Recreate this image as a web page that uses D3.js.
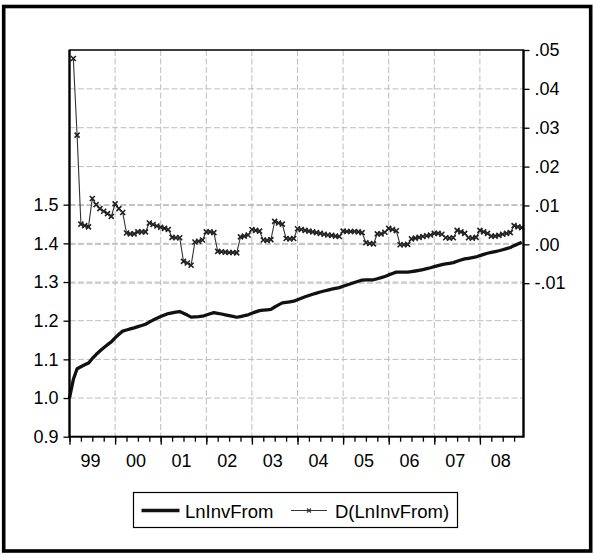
<!DOCTYPE html>
<html>
<head>
<meta charset="utf-8">
<script src="https://cdn.jsdelivr.net/npm/d3@7"></script>
<style>
  html, body { margin: 0; padding: 0; background: #fff; }
  svg text { font-family: "Liberation Sans", Arial, sans-serif; fill: #000; }
</style>
</head>
<body>
<svg id="chart" width="595" height="555"></svg>
<script>
// monthly data, 1999M1 .. 2008M12
var years = ["99", "00", "01", "02", "03", "04", "05", "06", "07", "08"];

var lnInvFrom = [
  1.0000, 1.0478, 1.0759, 1.0811, 1.0859, 1.0904, 1.1022, 1.1124, 1.1216, 1.1301, 1.1380, 1.1452,
  1.1556, 1.1648, 1.1730, 1.1759, 1.1786, 1.1813, 1.1845, 1.1877, 1.1909, 1.1964, 1.2015, 1.2062,
  1.2106, 1.2147, 1.2185, 1.2203, 1.2220, 1.2237, 1.2193, 1.2145, 1.2091, 1.2097, 1.2105, 1.2116,
  1.2148, 1.2180, 1.2210, 1.2192, 1.2173, 1.2153, 1.2132, 1.2111, 1.2089, 1.2108, 1.2129, 1.2153,
  1.2191, 1.2227, 1.2261, 1.2272, 1.2282, 1.2294, 1.2353, 1.2408, 1.2460, 1.2475, 1.2489, 1.2504,
  1.2544, 1.2582, 1.2618, 1.2652, 1.2684, 1.2714, 1.2742, 1.2768, 1.2792, 1.2815, 1.2836, 1.2856,
  1.2890, 1.2923, 1.2956, 1.2989, 1.3021, 1.3051, 1.3055, 1.3057, 1.3058, 1.3085, 1.3112, 1.3143,
  1.3184, 1.3222, 1.3257, 1.3256, 1.3255, 1.3255, 1.3269, 1.3285, 1.3303, 1.3323, 1.3345, 1.3369,
  1.3397, 1.3425, 1.3451, 1.3468, 1.3484, 1.3501, 1.3537, 1.3569, 1.3597, 1.3614, 1.3630, 1.3648,
  1.3684, 1.3716, 1.3744, 1.3765, 1.3786, 1.3809, 1.3835, 1.3863, 1.3893, 1.3941, 1.3986, 1.4029
];

var dLnInvFrom = [
  null,  .0478, .0281, .0052, .0048, .0045, .0118, .0102, .0092, .0085, .0079, .0072,
  .0104, .0092, .0082, .0029, .0027, .0027, .0032, .0032, .0032, .0055, .0051, .0047,
  .0044, .0041, .0038, .0018, .0017, .0017, -.0044, -.0048, -.0054, .0006, .0008, .0011,
  .0032, .0032, .0030, -.0018, -.0019, -.0020, -.0021, -.0021, -.0022, .0019, .0021, .0024,
  .0038, .0036, .0034, .0011, .0010, .0012, .0059, .0055, .0052, .0015, .0014, .0015,
  .0040, .0038, .0036, .0034, .0032, .0030, .0028, .0026, .0024, .0023, .0021, .0020,
  .0034, .0033, .0033, .0033, .0032, .0030, .0004, .0002, .0001, .0027, .0027, .0031,
  .0041, .0038, .0035, -.0001, -.0001, .0000, .0014, .0016, .0018, .0020, .0022, .0024,
  .0028, .0028, .0026, .0017, .0016, .0017, .0036, .0032, .0028, .0017, .0016, .0018,
  .0036, .0032, .0028, .0021, .0021, .0023, .0026, .0028, .0030, .0048, .0045, .0043
];

var leftTicks = [0.9, 1.0, 1.1, 1.2, 1.3, 1.4, 1.5];
var rightTicks = [-0.01, 0.00, 0.01, 0.02, 0.03, 0.04, 0.05];
var legendLabels = ["LnInvFrom", "D(LnInvFrom)"];

var svg = d3.select("#chart");
var plot = { left: 69.5, right: 523.5, top: 50, bottom: 436.7 };

var x = d3.scaleLinear().domain([0, 119]).range([69.5, 521.7]);
var yL = d3.scaleLinear().domain([0.9, 1.9]).range([plot.bottom, plot.top]);
var yR = d3.scaleLinear().domain([-0.0495, 0.05]).range([plot.bottom, plot.top]);

// outer frame
svg.append("rect")
  .attr("x", 3.7).attr("y", 6.5)
  .attr("width", 587).attr("height", 544.5)
  .attr("fill", "none").attr("stroke", "#000").attr("stroke-width", 3.6);

// grid
var grid = svg.append("g")
  .attr("stroke", "#bdbdbd").attr("stroke-width", 1)
  .attr("stroke-dasharray", "6,2.5").attr("fill", "none");

d3.range(12, 120, 12).forEach(function (m) {
  grid.append("line").attr("x1", x(m)).attr("x2", x(m))
    .attr("y1", plot.top).attr("y2", plot.bottom);
});
leftTicks.slice(1).forEach(function (v) {
  grid.append("line").attr("x1", plot.left).attr("x2", plot.right)
    .attr("y1", yL(v)).attr("y2", yL(v));
});
rightTicks.slice(0, -1).forEach(function (v) {
  grid.append("line").attr("x1", plot.left).attr("x2", plot.right)
    .attr("y1", yR(v)).attr("y2", yR(v));
});

// series
var levelLine = d3.line()
  .x(function (d, i) { return x(i); })
  .y(function (d) { return yL(d); });

var diffLine = d3.line()
  .defined(function (d) { return d !== null; })
  .x(function (d, i) { return x(i); })
  .y(function (d) { return yR(d); });

svg.append("path")
  .datum(dLnInvFrom)
  .attr("d", diffLine)
  .attr("fill", "none").attr("stroke", "#333").attr("stroke-width", 1.1);

var cross = "M-2.5,-2.5L2.5,2.5M-2.5,2.5L2.5,-2.5";
svg.append("g").selectAll("path")
  .data(dLnInvFrom.map(function (d, i) { return { i: i, v: d }; })
    .filter(function (d) { return d.v !== null; }))
  .enter().append("path")
  .attr("d", cross)
  .attr("transform", function (d) { return "translate(" + x(d.i) + "," + yR(d.v) + ")"; })
  .attr("stroke", "#222").attr("stroke-width", 1.6).attr("fill", "none");

svg.append("path")
  .datum(lnInvFrom)
  .attr("d", levelLine)
  .attr("fill", "none").attr("stroke", "#111").attr("stroke-width", 3.3)
  .attr("stroke-linejoin", "round");

// plot frame
svg.append("rect")
  .attr("x", plot.left).attr("y", plot.top)
  .attr("width", plot.right - plot.left).attr("height", plot.bottom - plot.top)
  .attr("fill", "none").attr("stroke", "#000").attr("stroke-width", 1.5);

// axes
var leftAxis = svg.append("g")
  .attr("transform", "translate(" + plot.left + ",0)")
  .call(d3.axisLeft(yL).tickValues(leftTicks).tickFormat(d3.format(".1f"))
    .tickSize(6).tickSizeOuter(0).tickPadding(5));

var rightAxis = svg.append("g")
  .attr("transform", "translate(" + plot.right + ",0)")
  .call(d3.axisRight(yR).tickValues(rightTicks)
    .tickFormat(function (d) { return d.toFixed(2).replace("0.", "."); })
    .tickSize(6).tickSizeOuter(0).tickPadding(5));

var minorAxis = svg.append("g")
  .attr("transform", "translate(0," + plot.bottom + ")")
  .call(d3.axisBottom(x).tickValues(d3.range(0, 120, 3))
    .tickSize(5).tickSizeOuter(0).tickFormat(""));

var majorAxis = svg.append("g")
  .attr("transform", "translate(0," + plot.bottom + ")")
  .call(d3.axisBottom(x).tickValues(d3.range(0, 120, 12))
    .tickSize(8).tickSizeOuter(0).tickFormat(""));

[leftAxis, rightAxis, minorAxis, majorAxis].forEach(function (g) {
  g.select(".domain").remove();
  g.selectAll("line").attr("stroke", "#000").attr("stroke-width", 1.3);
  g.selectAll("text")
    .attr("font-family", "Liberation Sans, Arial, sans-serif")
    .attr("font-size", 18).attr("fill", "#000");
});

// thicker axis lines like the original
svg.append("line").attr("x1", plot.left).attr("x2", plot.left)
  .attr("y1", plot.top).attr("y2", plot.bottom + 0.8)
  .attr("stroke", "#000").attr("stroke-width", 2.2);
svg.append("line").attr("x1", plot.right).attr("x2", plot.right)
  .attr("y1", plot.top).attr("y2", plot.bottom + 0.8)
  .attr("stroke", "#000").attr("stroke-width", 2.2);
svg.append("line").attr("x1", plot.left).attr("x2", plot.right)
  .attr("y1", plot.bottom).attr("y2", plot.bottom)
  .attr("stroke", "#000").attr("stroke-width", 1.8);

// year labels
svg.append("g").selectAll("text")
  .data(years)
  .enter().append("text")
  .attr("x", function (d, i) { return x(i * 12 + 5.5); })
  .attr("y", 466.5)
  .attr("text-anchor", "middle")
  .attr("font-size", 18)
  .text(function (d) { return d; });

// legend
var legend = svg.append("g");
legend.append("rect")
  .attr("x", 133.5).attr("y", 492.5).attr("width", 324).attr("height", 35)
  .attr("fill", "#fff").attr("stroke", "#000").attr("stroke-width", 1.2);
legend.append("line")
  .attr("x1", 141.5).attr("x2", 179.5).attr("y1", 510.5).attr("y2", 510.5)
  .attr("stroke", "#111").attr("stroke-width", 3.3);
legend.append("text").attr("x", 185).attr("y", 517.5)
  .attr("font-size", 18.5).text(legendLabels[0]);
legend.append("line")
  .attr("x1", 291).attr("x2", 327).attr("y1", 510.5).attr("y2", 510.5)
  .attr("stroke", "#333").attr("stroke-width", 1);
legend.append("path").attr("d", "M-2,-2L2,2M-2,2L2,-2")
  .attr("transform", "translate(309,510.5)")
  .attr("stroke", "#333").attr("stroke-width", 1.1).attr("fill", "none");
legend.append("text").attr("x", 335).attr("y", 517.5)
  .attr("font-size", 18.5).text(legendLabels[1]);
</script>
</body>
</html>
